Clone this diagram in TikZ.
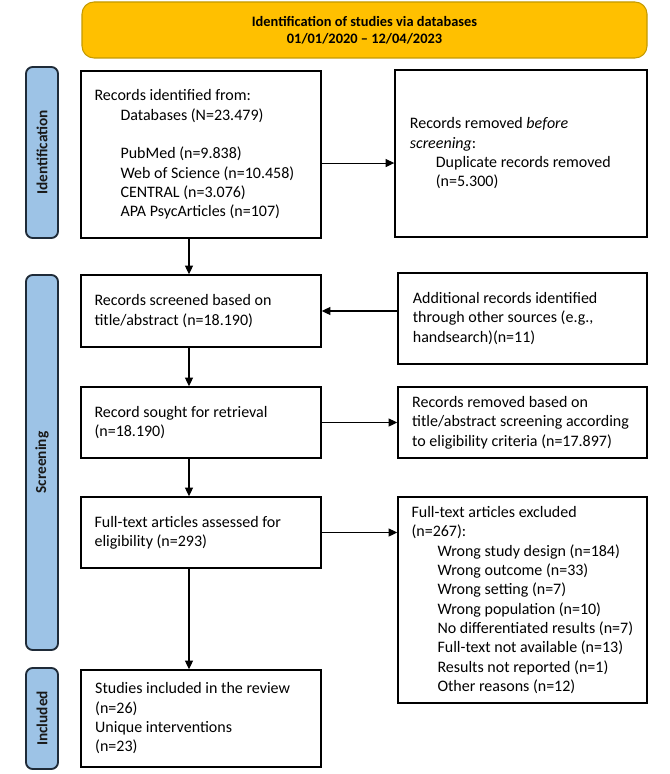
\documentclass[tikz,border=0pt]{standalone}
\usepackage{fontspec}
\setmainfont{Carlito}
\usetikzlibrary{arrows.meta}
\definecolor{gold}{HTML}{FFC000}
\definecolor{golddark}{HTML}{C49A00}
\definecolor{lblue}{HTML}{9DC3E6}
\definecolor{ldark}{HTML}{1F2B38}
\newcommand\myind{\hspace*{19.5pt}}
\begin{document}
\begin{tikzpicture}[x=0.75pt,y=-0.75pt,
 box/.style={draw=black, line width=1.1pt, inner sep=0pt},
 txt/.style={anchor=west, align=left, inner sep=0pt, font=\fontsize{12pt}{14.5pt}\selectfont},
 lab/.style={draw=ldark, line width=1.4pt, fill=lblue, rounded corners=5pt, rotate=90, minimum height=24pt, inner sep=0pt, text=black!90, font=\fontsize{11.5pt}{13pt}\selectfont\bfseries},
 arr/.style={draw=black, line width=0.8pt, -{Triangle[length=6.5pt,width=6pt]}},
 hdr/.style={draw=golddark, line width=0.8pt, fill=gold, rounded corners=9pt, align=center, inner sep=0pt, font=\fontsize{10.8pt}{12.5pt}\selectfont\bfseries},
]
\useasboundingbox (0,0) rectangle (669,774);

% header
\node[hdr, minimum width=423.75pt, minimum height=42pt] (hdr) at (364.5,30)
  {Identification of studies via databases\\01/01/2020 – 12/04/2023};

% side labels
\node[lab, minimum width=128.25pt] (lid) at (42,152.5) {Identification};
\node[lab, minimum width=281.25pt] (lsc) at (42,462.5) {Screening};
\node[lab, minimum width=75.75pt] (lin) at (42,718.5) {Included};

% boxes
\node[box, minimum width=180pt, minimum height=125.25pt] (A) at (201,154.5) {};
\node[box, minimum width=189pt, minimum height=125.25pt] (B) at (521,153.5) {};
\node[box, minimum width=180pt, minimum height=54pt] (C) at (201,311) {};
\node[box, minimum width=186.75pt, minimum height=68.25pt] (D) at (522.5,318.5) {};
\node[box, minimum width=180pt, minimum height=53.25pt] (E) at (201,422.5) {};
\node[box, minimum width=186.75pt, minimum height=53.25pt] (F) at (522.5,422.5) {};
\node[box, minimum width=180pt, minimum height=53.25pt] (G) at (201,532.5) {};
\node[box, minimum width=186.75pt, minimum height=154.5pt] (H) at (522.5,600) {};
\node[box, minimum width=180pt, minimum height=72.75pt] (I) at (201,718.5) {};

% texts
\node[txt] (At) at ([xshift=10.5pt]A.west) {Records identified from:\\\myind Databases (N=23.479)\\[14.5pt]\myind PubMed (n=9.838)\\\myind Web of Science (n=10.458)\\\myind CENTRAL (n=3.076)\\\myind APA PsycArticles (n=107)};
\node[txt] (Bt) at ([xshift=11.5pt]B.west) {Records removed \textit{before}\\\textit{screening}:\\\myind Duplicate records removed\\\myind (n=5.300)};
\node[txt] (Ct) at ([xshift=10.5pt]C.west) {Records screened based on\\title/abstract (n=18.190)};
\node[txt] (Dt) at ([xshift=11.5pt]D.west) {Additional records identified\\through other sources (e.g.,\\handsearch)(n=11)};
\node[txt] (Et) at ([xshift=10.5pt]E.west) {Record sought for retrieval\\(n=18.190)};
\node[txt] (Ft) at ([xshift=11pt]F.west) {Records removed based on\\title/abstract screening according\\to eligibility criteria (n=17.897)};
\node[txt] (Gt) at ([xshift=10.5pt]G.west) {Full-text articles assessed for\\eligibility (n=293)};
\node[txt] (Ht) at ([xshift=10.5pt]H.west) {Full-text articles excluded\\(n=267):\\\myind Wrong study design (n=184)\\\myind Wrong outcome (n=33)\\\myind Wrong setting (n=7)\\\myind Wrong population (n=10)\\\myind No differentiated results (n=7)\\\myind Full-text not available (n=13)\\\myind Results not reported (n=1)\\\myind Other reasons (n=12)};
\node[txt] (It) at ([xshift=11pt]I.west) {Studies included in the review\\(n=26)\\Unique interventions\\(n=23)};

% connectors
\draw[arr] ([yshift=-6.4pt]A.east) -- ([yshift=-6.4pt]A.east -| B.west);
\draw[arr] ([xshift=-9pt]A.south) -- ([xshift=-9pt]A.south |- C.north);
\draw[arr] (C.east -| D.west) -- (C.east);
\draw[arr] ([xshift=-9pt]C.south) -- ([xshift=-9pt]C.south |- E.north);
\draw[arr] (E.east) -- (E.east -| F.west);
\draw[arr] ([xshift=-9pt]E.south) -- ([xshift=-9pt]E.south |- G.north);
\draw[arr] (G.east) -- (G.east -| H.west);
\draw[arr] ([xshift=-9pt]G.south) -- ([xshift=-9pt]G.south |- I.north);
\end{tikzpicture}
\end{document}
